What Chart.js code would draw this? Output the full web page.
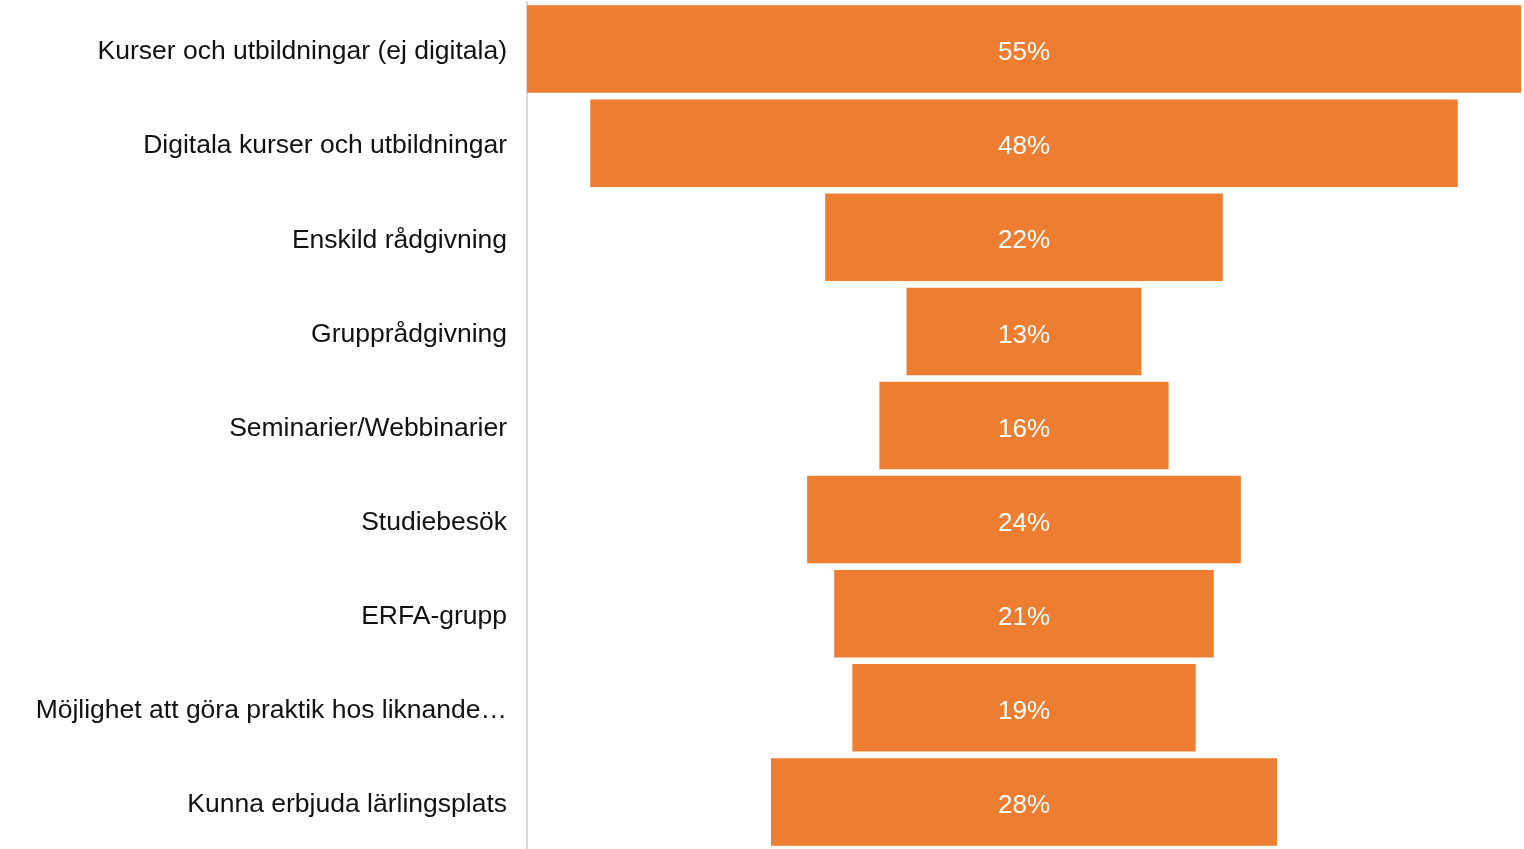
<!DOCTYPE html>
<html>
<head>
<meta charset="utf-8">
<script src="https://cdn.jsdelivr.net/npm/chart.js@4.4.0/dist/chart.umd.min.js"></script>
<style>
  html, body { margin: 0; padding: 0; background: #fff; }
  #wrap { width: 1524px; height: 849px; }
</style>
</head>
<body>
<div id="wrap"><canvas id="funnel"></canvas></div>
<script>
const categories = [
    "Kurser och utbildningar (ej digitala)",
    "Digitala kurser och utbildningar",
    "Enskild rådgivning",
    "Grupprådgivning",
    "Seminarier/Webbinarier",
    "Studiebesök",
    "ERFA-grupp",
    "Möjlighet att göra praktik hos liknande…",
    "Kunna erbjuda lärlingsplats"
];
const percents = [55, 48, 22, 13, 16, 24, 21, 19, 28];

// funnel: every bar centred on zero
const spans = percents.map(v => [-v / 2, v / 2]);

const barLabels = {
    id: "barLabels",
    afterDatasetsDraw(chart) {
        const ctx = chart.ctx;
        const meta = chart.getDatasetMeta(0);
        ctx.save();
        ctx.fillStyle = "#ffffff";
        ctx.font = "26px 'Liberation Sans', Arial, sans-serif";
        ctx.textAlign = "center";
        ctx.textBaseline = "middle";
        meta.data.forEach((bar, i) => {
            const x = (bar.x + bar.base) / 2;
            ctx.fillText(percents[i] + "%", x, bar.y + 4);
        });
        ctx.restore();
    }
};

new Chart(document.getElementById("funnel").getContext("2d"), {
    type: "bar",
    data: {
        labels: categories,
        datasets: [{
            data: spans,
            backgroundColor: "#ED7D31",
            borderWidth: 0,
            categoryPercentage: 1,
            barPercentage: 0.93
        }]
    },
    plugins: [barLabels],
    options: {
        indexAxis: "y",
        responsive: true,
        maintainAspectRatio: false,
        animation: false,
        layout: { padding: { top: 2, right: 3, bottom: 0, left: 0 } },
        plugins: {
            legend: { display: false },
            tooltip: { enabled: false }
        },
        scales: {
            x: {
                display: false,
                min: -27.5,
                max: 27.5
            },
            y: {
                grid: { display: false },
                border: { display: true, color: "#d9d9d9", width: 2 },
                ticks: {
                    color: "#111111",
                    padding: 12,
                    labelOffset: 3,
                    font: { family: "'Liberation Sans', Arial, sans-serif", size: 26.5 }
                },
                afterFit(scale) {
                    scale.width = 527;
                    scale.paddingTop = 0;
                    scale.paddingBottom = 0;
                }
            }
        }
    }
});
</script>
</body>
</html>
